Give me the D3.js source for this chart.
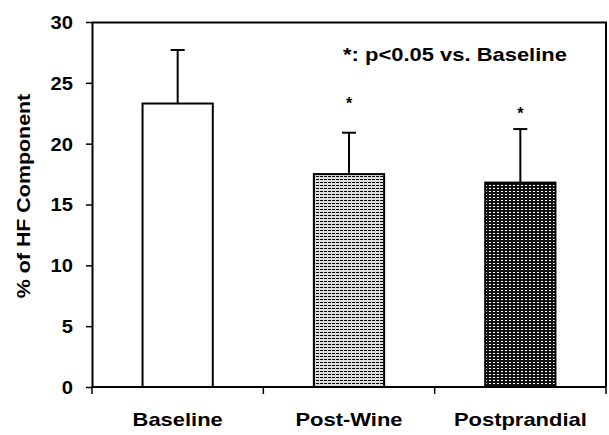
<!DOCTYPE html>
<html>
<head>
<meta charset="utf-8">
<script src="https://cdn.jsdelivr.net/npm/d3@7"></script>
<style>
  body { margin: 0; background: #fff; }
  text { font-family: Arial, "Liberation Sans", sans-serif; font-weight: bold; fill: #000; }
</style>
</head>
<body>
<svg id="chart" width="609" height="435"></svg>
<script>
// data
const categories = ["Baseline", "Post-Wine", "Postprandial"]
const means = [23.3, 17.5, 16.8]
const errorTops = [27.7, 20.9, 21.2]
const significant = [false, true, true]
const starLevels = [null, 23.5, 22.7]
const yTicks = [0, 5, 10, 15, 20, 25, 30]
const fills = ["#ffffff", "url(#light-dash)", "url(#dark-dash)"]

const dimensions = {
    width: 609,
    height: 435,
    margin: { top: 22, right: 3, bottom: 48, left: 92 },
}
dimensions.boundedWidth = dimensions.width - dimensions.margin.left - dimensions.margin.right
dimensions.boundedHeight = dimensions.height - dimensions.margin.top - dimensions.margin.bottom

const stretch = 1.22   // the original type is wider than Arial

const svg = d3.select("#chart")

// hatching patterns for the grey bars
const defs = svg.append("defs")
const light = defs.append("pattern")
    .attr("id", "light-dash")
    .attr("patternUnits", "userSpaceOnUse")
    .attr("width", 4).attr("height", 3)
light.append("rect").attr("width", 4).attr("height", 3).attr("fill", "#dedede")
light.append("rect").attr("x", 0).attr("y", 1).attr("width", 3).attr("height", 1).attr("fill", "#000")

const dark = defs.append("pattern")
    .attr("id", "dark-dash")
    .attr("patternUnits", "userSpaceOnUse")
    .attr("width", 4).attr("height", 3)
dark.append("rect").attr("width", 4).attr("height", 3).attr("fill", "#111")
dark.append("rect").attr("x", 1).attr("y", 1).attr("width", 2).attr("height", 1).attr("fill", "#fff")

const bounds = svg.append("g")
    .attr("transform", `translate(${dimensions.margin.left},${dimensions.margin.top})`)

// scales
const xScale = d3.scaleBand()
    .domain(categories)
    .range([0, dimensions.boundedWidth])
    .paddingInner(0.59)
    .paddingOuter(0.295)

const yScale = d3.scaleLinear()
    .domain([0, 30])
    .range([dimensions.boundedHeight, 0])

const data = categories.map((c, i) => ({
    name: c, mean: means[i], top: errorTops[i], sig: significant[i], star: starLevels[i], fill: fills[i]
}))

// error bars (upper whisker only)
const err = bounds.append("g").selectAll("g")
    .data(data).join("g")
err.append("line")
    .attr("x1", d => xScale(d.name) + xScale.bandwidth() / 2)
    .attr("x2", d => xScale(d.name) + xScale.bandwidth() / 2)
    .attr("y1", d => yScale(d.mean))
    .attr("y2", d => yScale(d.top))
    .attr("stroke", "#000").attr("stroke-width", 2)
err.append("line")
    .attr("x1", d => xScale(d.name) + xScale.bandwidth() / 2 - 7)
    .attr("x2", d => xScale(d.name) + xScale.bandwidth() / 2 + 7)
    .attr("y1", d => yScale(d.top))
    .attr("y2", d => yScale(d.top))
    .attr("stroke", "#000").attr("stroke-width", 2)

// bars
bounds.append("g").selectAll("rect")
    .data(data).join("rect")
    .attr("x", d => xScale(d.name))
    .attr("y", d => yScale(d.mean))
    .attr("width", xScale.bandwidth())
    .attr("height", d => yScale(0) - yScale(d.mean))
    .attr("fill", d => d.fill)
    .attr("stroke", "#000")
    .attr("stroke-width", 2)

// significance stars
bounds.append("g").selectAll("text")
    .data(data.filter(d => d.sig)).join("text")
    .attr("x", d => xScale(d.name) + xScale.bandwidth() / 2)
    .attr("y", d => yScale(d.star) + 8)
    .attr("text-anchor", "middle")
    .style("font-size", "16px")
    .text("*")

// frame: top and right
bounds.append("path")
    .attr("d", `M0,0.5H${dimensions.boundedWidth}V${dimensions.boundedHeight}`)
    .attr("fill", "none").attr("stroke", "#000").attr("stroke-width", 2)

// y axis
const yAxis = bounds.append("g")
    .call(d3.axisLeft(yScale).tickValues(yTicks).tickSize(6).tickSizeOuter(0).tickPadding(13))
yAxis.select(".domain").attr("stroke-width", 2)
yAxis.selectAll(".tick line").attr("stroke-width", 1.5)
yAxis.selectAll(".tick text")
    .style("font-size", "18px")
    .attr("font-family", null).attr("font-size", null)
    .attr("dy", "0.36em")
    .each(function () {
        const t = d3.select(this)
        const x = +t.attr("x")
        t.attr("x", 0).attr("transform", `translate(${x},0) scale(1.12,1)`)
    })

// x axis: baseline with ticks at the category boundaries
const step = xScale.step()
const boundaries = d3.range(categories.length + 1).map(i => xScale.range()[0] + i * step)
const xAxis = bounds.append("g")
    .attr("transform", `translate(0,${dimensions.boundedHeight})`)
xAxis.append("line")
    .attr("x1", 0).attr("x2", dimensions.boundedWidth)
    .attr("stroke", "#000").attr("stroke-width", 2)
xAxis.selectAll(".xtick")
    .data(boundaries).join("line")
    .attr("class", "xtick")
    .attr("x1", d => d).attr("x2", d => d)
    .attr("y1", 0).attr("y2", 7)
    .attr("stroke", "#000").attr("stroke-width", 1.5)
xAxis.selectAll(".xlabel")
    .data(categories).join("text")
    .attr("class", "xlabel")
    .attr("transform", d => `translate(${xScale(d) + xScale.bandwidth() / 2},39) scale(${stretch},1)`)
    .attr("text-anchor", "middle")
    .style("font-size", "18px")
    .text(d => d)

// y label
svg.append("text")
    .attr("transform", `translate(30,${dimensions.margin.top + 174}) rotate(-90) scale(1.19,1)`)
    .attr("text-anchor", "middle")
    .style("font-size", "18px")
    .text("% of HF Component")

// legend note
bounds.append("text")
    .attr("transform", `translate(${455 - dimensions.margin.left},${61 - dimensions.margin.top}) scale(${stretch},1)`)
    .attr("text-anchor", "middle")
    .style("font-size", "18px")
    .text("*: p<0.05 vs. Baseline")
</script>
</body>
</html>
